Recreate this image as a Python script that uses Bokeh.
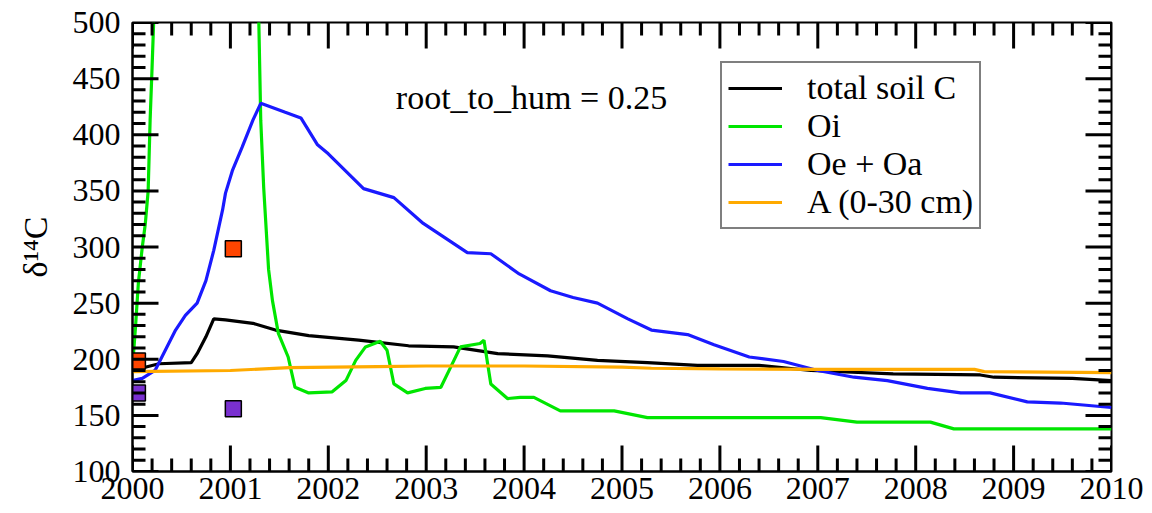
from bokeh.plotting import figure
from bokeh.models import Range1d, SingleIntervalTicker, Label, Legend, LegendItem
from bokeh.embed import file_html
from bokeh.resources import INLINE

# ---- data ----
years_black = [2000.0, 2000.27, 2000.6, 2000.66, 2000.75, 2000.83, 2000.95, 2001.23, 2001.46, 2001.8,
               2002.31, 2002.82, 2003.28, 2003.73, 2004.24, 2004.75, 2005.26, 2005.77, 2006.4, 2006.93,
               2007.77, 2008.66, 2008.8, 2009.6, 2010.0]
total_soil_c = [190, 196, 197, 205, 220, 236, 235, 232, 226, 221,
                217, 212, 211, 205, 203, 199, 197, 194.5, 194.5, 190,
                187, 186, 184, 183, 181]

years_green = [2000.0, 2000.03, 2000.06, 2000.1, 2000.13, 2000.16, 2000.18, 2000.2, 2000.22, 2000.4,
               2000.7, 2001.0, 2001.2, 2001.29, 2001.31, 2001.34, 2001.39, 2001.43, 2001.49, 2001.59,
               2001.66, 2001.8, 2002.04, 2002.18, 2002.28, 2002.38, 2002.53, 2002.6, 2002.67, 2002.81,
               2002.99, 2003.15, 2003.25, 2003.35, 2003.55, 2003.59, 2003.66, 2003.83, 2003.96, 2004.1,
               2004.37, 2004.92, 2005.26, 2007.03, 2007.4, 2008.15, 2008.39, 2010.0]
oi = [193, 228, 268, 300, 320, 350, 413, 460, 510, 650,
      800, 850, 650, 502, 413, 353, 280, 252, 223, 202,
      175, 170, 171, 181, 199, 211, 216, 208, 178, 170,
      174, 175, 193, 211, 214, 217, 178, 165, 166, 166,
      154, 154, 148, 148, 144, 144, 138, 138]

years_blue = [2000.0, 2000.1, 2000.23, 2000.44, 2000.54, 2000.66, 2000.75, 2000.83, 2000.92, 2000.95,
              2001.02, 2001.12, 2001.23, 2001.31, 2001.56, 2001.72, 2001.89, 2002.0, 2002.36, 2002.67,
              2002.97, 2003.42, 2003.66, 2003.95, 2004.27, 2004.5, 2004.75, 2005.06, 2005.3, 2005.67,
              2005.94, 2006.3, 2006.65, 2007.0, 2007.37, 2007.71, 2008.12, 2008.46, 2008.76, 2009.14,
              2009.48, 2010.0]
oe_oa = [181, 183, 190, 226, 239, 250, 270, 297, 333, 348,
         368, 389, 413, 428, 420, 415, 391, 383, 352, 344,
         321, 295, 294, 276, 261, 255, 250, 236, 226, 222,
         213, 202, 198, 190, 184, 181, 174, 170, 170, 162,
         161, 157]

years_orange = [2000.0, 2001.0, 2001.6, 2002.5, 2003.0, 2004.0, 2005.0, 2005.3, 2006.0, 2007.0,
                2008.0, 2008.6, 2008.7, 2010.0]
a_horizon = [189, 190, 192.5, 193.5, 194, 194, 193, 192, 191.5, 191,
             191, 191, 189, 188]

obs_red_x = [2000.05, 2001.03]
obs_red_y = [198.5, 298.5]
obs_purple_x = [2000.05, 2001.03]
obs_purple_y = [170, 156]

x_start, x_end, x_step, x_minor = 2000, 2010, 1, 5
y_start, y_end, y_step, y_minor = 100, 500, 50, 5

FONT = "Liberation Serif"
W, H = 1152, 513
BL, BR, BT, BB = 132, 41, 22, 42
TICK_W = 3

p = figure(width=W, height=H, x_range=Range1d(x_start, x_end), y_range=Range1d(y_start, y_end),
           output_backend="svg", toolbar_location=None,
           min_border_left=BL, min_border_right=BR, min_border_top=BT, min_border_bottom=BB)
p.background_fill_color = "white"
p.border_fill_color = "white"
p.outline_line_color = "black"
p.outline_line_width = 2
p.xgrid.visible = False
p.ygrid.visible = False

for ax, tk in ((p.xaxis[0], SingleIntervalTicker(interval=x_step, num_minor_ticks=x_minor)),
               (p.yaxis[0], SingleIntervalTicker(interval=y_step, num_minor_ticks=y_minor))):
    ax.ticker = tk
    ax.axis_line_color = "black"
    ax.axis_line_width = 2
    ax.major_tick_in = 0
    ax.major_tick_out = 0
    ax.minor_tick_in = 0
    ax.minor_tick_out = 0
    ax.major_tick_line_color = None
    ax.minor_tick_line_color = None
    ax.major_label_text_font = FONT
    ax.major_label_text_font_size = "32px"
    ax.major_label_text_color = "black"

p.xaxis[0].major_label_standoff = 6
p.yaxis[0].major_label_standoff = 12
p.yaxis[0].axis_label = "δ¹⁴C"
p.yaxis[0].axis_label_text_font = FONT
p.yaxis[0].axis_label_text_font_size = "34px"
p.yaxis[0].axis_label_text_font_style = "normal"
p.yaxis[0].axis_label_text_color = "black"
p.yaxis[0].axis_label_standoff = 16

lw = 3.2
r_black = p.line(years_black, total_soil_c, line_color="black", line_width=lw)
r_green = p.line(years_green, oi, line_color="#00E600", line_width=lw)
r_blue = p.line(years_blue, oe_oa, line_color="#1A1AFF", line_width=lw)
r_orange = p.line(years_orange, a_horizon, line_color="#FFAA00", line_width=lw)

p.scatter(obs_red_x, obs_red_y, marker="square", size=16, fill_color="#FF4500",
          line_color="black", line_width=1.5)
p.scatter(obs_purple_x, obs_purple_y, marker="square", size=16, fill_color="#7A30D0",
          line_color="black", line_width=1.5)

# inward tick marks on all four edges (drawn after the data lines)
fw = W - BL - BR
fh = H - BT - BB
dx = (x_end - x_start) / fw
dy = (y_end - y_start) / fh
n_x = int(round((x_end - x_start) / x_step * x_minor))
n_y = int(round((y_end - y_start) / y_step * y_minor))
x_ticks = [x_start + i * x_step / x_minor for i in range(n_x + 1)]
x_len = [26 if i % x_minor == 0 else 13 for i in range(n_x + 1)]
y_ticks = [y_start + i * y_step / y_minor for i in range(n_y + 1)]
y_len = [26 if i % y_minor == 0 else 13 for i in range(n_y + 1)]

p.segment(x0=x_ticks, y0=[y_end] * len(x_ticks), x1=x_ticks, y1=[y_end - L * dy for L in x_len],
          line_color="black", line_width=TICK_W)
p.segment(x0=[x_end] * len(y_ticks), y0=y_ticks, x1=[x_end - L * dx for L in y_len], y1=y_ticks,
          line_color="black", line_width=TICK_W)
p.segment(x0=x_ticks, y0=[y_start] * len(x_ticks), x1=x_ticks, y1=[y_start + L * dy for L in x_len],
          line_color="black", line_width=TICK_W)
p.segment(x0=[x_start] * len(y_ticks), y0=y_ticks, x1=[x_start + L * dx for L in y_len], y1=y_ticks,
          line_color="black", line_width=TICK_W)

p.add_layout(Label(x=2002.69, y=433.5, text="root_to_hum = 0.25", text_font=FONT,
                   text_font_size="34px", text_baseline="middle", text_align="left",
                   text_color="black"))

legend = Legend(items=[LegendItem(label="total soil C", renderers=[r_black]),
                       LegendItem(label="Oi", renderers=[r_green]),
                       LegendItem(label="Oe + Oa", renderers=[r_blue]),
                       LegendItem(label="A (0-30 cm)", renderers=[r_orange])],
                location=(588, 242))
legend.border_line_color = "black"
legend.border_line_width = 2
legend.background_fill_color = "white"
legend.background_fill_alpha = 1
legend.label_text_font = FONT
legend.label_text_font_size = "34px"
legend.label_text_color = "black"
legend.glyph_width = 54
legend.glyph_height = 36
legend.label_height = 36
legend.label_standoff = 25
legend.padding = 6
legend.spacing = 0
legend.margin = 0
p.add_layout(legend, "center")

open("out.html", "w").write(file_html(p, INLINE))
